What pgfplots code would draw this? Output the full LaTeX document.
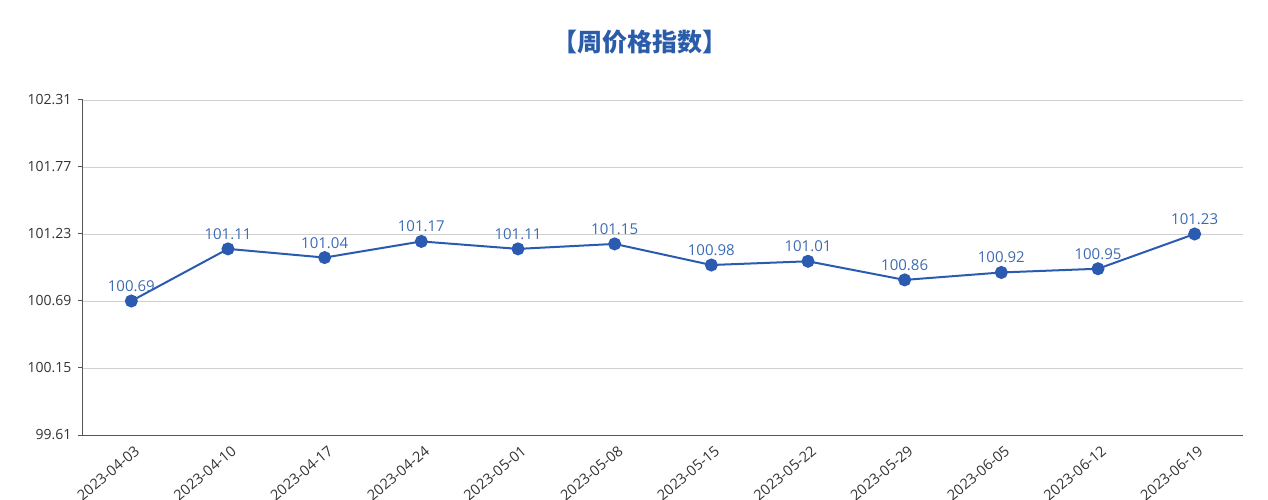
\documentclass[border=0pt]{standalone}
\usepackage{fontspec}
\setmainfont{Open Sans}
\newfontfamily\cjk{Noto Sans CJK SC}
\usepackage{pgfplots}
\pgfplotsset{compat=1.18}
\definecolor{lineblue}{HTML}{2B5BB0}
\definecolor{labelblue}{HTML}{3D6BB3}
\definecolor{titleblue}{HTML}{2A5CAA}
\definecolor{gridgray}{HTML}{D0D0D0}
\definecolor{axisgray}{HTML}{555555}
\definecolor{textgray}{HTML}{333333}
\begin{document}
\begin{tikzpicture}[x=1pt,y=1pt]
\useasboundingbox (-83,-65) rectangle (1185,435);
\begin{axis}[
    at={(0pt,0pt)}, anchor=south west,
    scale only axis,
    width=1160pt, height=335pt,
    clip=false,
    xmin=-0.5, xmax=11.5,
    ymin=99.61, ymax=102.31,
    axis lines=left,
    axis line style={-, axisgray, line width=1pt},
    xtick={0,...,11},
    xticklabels={2023-04-03,2023-04-10,2023-04-17,2023-04-24,2023-05-01,2023-05-08,
                 2023-05-15,2023-05-22,2023-05-29,2023-06-05,2023-06-12,2023-06-19},
    x tick style={draw=none},
    extra x ticks={-0.5,0.5,...,11.5},
    extra x tick labels={},
    extra x tick style={tick style={draw=axisgray, line width=1pt}, major tick length=5pt, tick align=outside},
    xticklabel style={rotate=40, anchor=north east, font=\fontsize{14.5}{16}\selectfont, text=textgray, inner sep=1pt, yshift=-4pt},
    ytick={99.61,100.15,100.69,101.23,101.77,102.31},
    yticklabels={99.61,100.15,100.69,101.23,101.77,102.31},
    yticklabel style={font=\fontsize{14}{16}\selectfont, text=textgray, xshift=-3pt},
    y tick style={draw=axisgray, line width=1pt},
    major tick length=5pt, tick align=outside,
    ymajorgrids=true,
    major grid style={gridgray, line width=0.8pt},
    /pgf/number format/assume math mode=true,
    nodes near coords,
    point meta=y,
    nodes near coords style={font=\fontsize{15}{17}\selectfont, text=labelblue, anchor=south, yshift=5pt,
        /pgf/number format/.cd, fixed, precision=2, fixed zerofill},
  ]
  \addplot[lineblue, line width=2pt, mark=*, mark size=5.5pt, mark options={fill=lineblue, draw=lineblue}]
    coordinates {
      (0,100.69) (1,101.11) (2,101.04) (3,101.17) (4,101.11) (5,101.15)
      (6,100.98) (7,101.01) (8,100.86) (9,100.92) (10,100.95) (11,101.23)
    };
\end{axis}
\node[font=\cjk\bfseries\fontsize{25}{28}\selectfont, text=titleblue] at (557,393) {【周价格指数】};
\end{tikzpicture}
\end{document}
